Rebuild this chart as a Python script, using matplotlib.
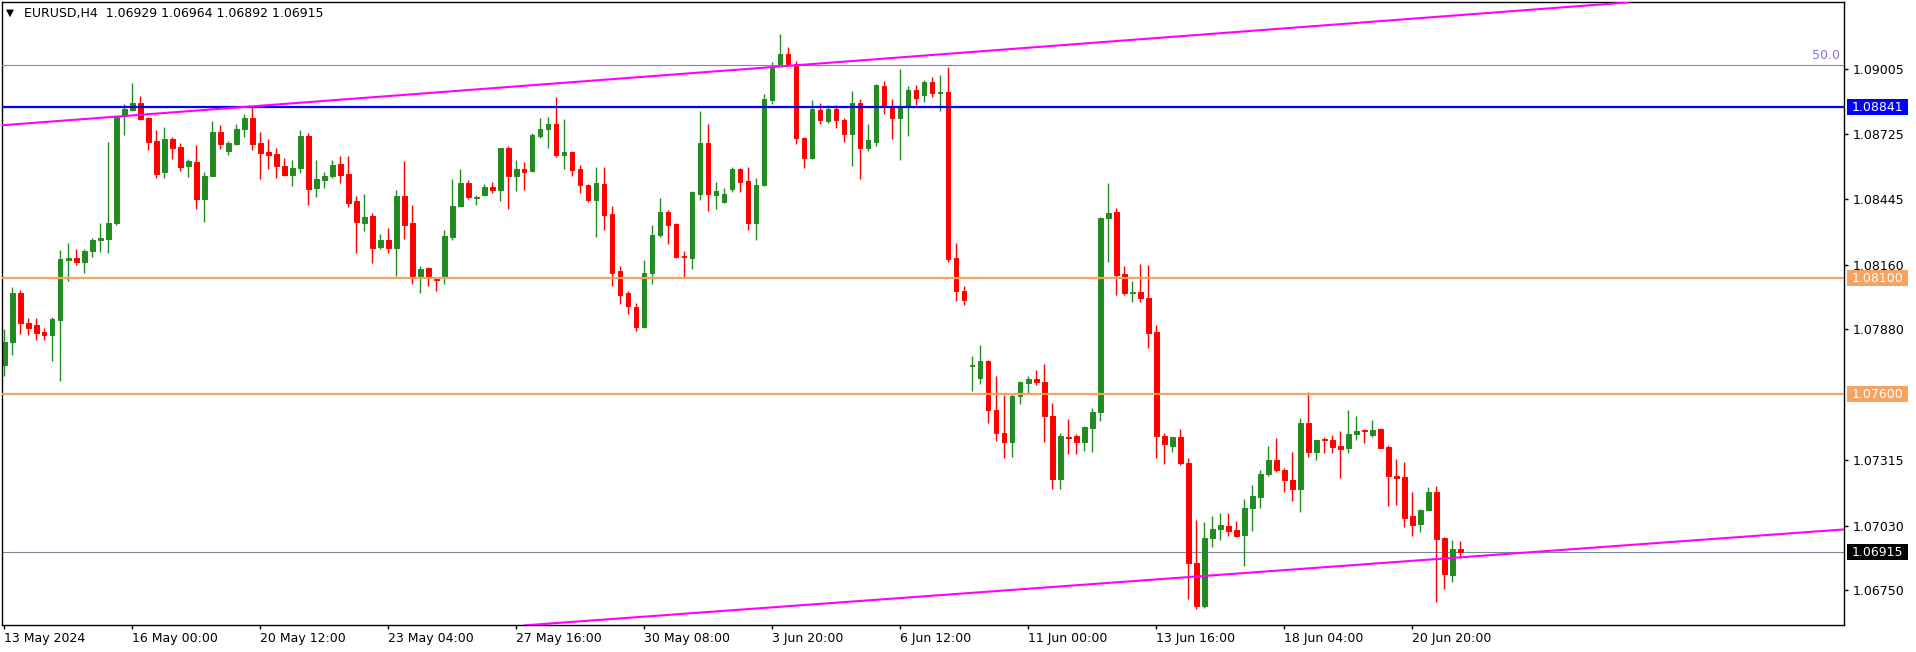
import matplotlib
matplotlib.use("Agg")
import matplotlib.pyplot as plt
from matplotlib.transforms import blended_transform_factory
from matplotlib.patches import Rectangle

# ---------------- data (EURUSD H4) ----------------
opens = [1.07724, 1.07825, 1.08037, 1.07909, 1.07897, 1.07869, 1.07856, 1.07921, 1.08181, 1.08188,
         1.08171, 1.08218, 1.08266, 1.08271, 1.08340, 1.08805, 1.08829, 1.08858, 1.08793, 1.08695,
         1.08559, 1.08703, 1.08669, 1.08588, 1.08604, 1.08443, 1.08545, 1.08734, 1.08651, 1.08683,
         1.08745, 1.08796, 1.08687, 1.08648, 1.08639, 1.08589, 1.08549, 1.08577, 1.08717, 1.08492,
         1.08528, 1.08545, 1.08595, 1.08552, 1.08436, 1.08342, 1.08372, 1.08238, 1.08268, 1.08233,
         1.08457, 1.08340, 1.08111, 1.08144, 1.08098, 1.08100, 1.08280, 1.08413, 1.08515, 1.08448,
         1.08462, 1.08496, 1.08485, 1.08664, 1.08545, 1.08575, 1.08565, 1.08715, 1.08747, 1.08768,
         1.08634, 1.08648, 1.08572, 1.08506, 1.08439, 1.08510, 1.08381, 1.08134, 1.08038, 1.07978,
         1.07892, 1.08125, 1.08287, 1.08388, 1.08337, 1.08197, 1.08190, 1.08466, 1.08687, 1.08462,
         1.08430, 1.08487, 1.08575, 1.08522, 1.08340, 1.08506, 1.08874, 1.09022, 1.09072, 1.09028,
         1.08708, 1.08623, 1.08830, 1.08782, 1.08833, 1.08786, 1.08727, 1.08860, 1.08665, 1.08690,
         1.08932, 1.08842, 1.08793, 1.08842, 1.08916, 1.08895, 1.08950, 1.08902, 1.08909, 1.08188,
         1.08045, 1.07722, 1.07671, 1.07743, 1.07533, 1.07432, 1.07393, 1.07591, 1.07648, 1.07664,
         1.07651, 1.07507, 1.07234, 1.07415, 1.07420, 1.07393, 1.07454, 1.07524, 1.08360, 1.08386,
         1.08118, 1.08037, 1.08042, 1.08015, 1.07870, 1.07418, 1.07376, 1.07413, 1.07303, 1.06867,
         1.06681, 1.06976, 1.07017, 1.07030, 1.07012, 1.06991, 1.07105, 1.07155, 1.07256, 1.07314,
         1.07273, 1.07226, 1.07190, 1.07476, 1.07347, 1.07406, 1.07402, 1.07374, 1.07367, 1.07429,
         1.07445, 1.07423, 1.07448, 1.07370, 1.07247, 1.07241, 1.07074, 1.07038, 1.07097, 1.07176,
         1.06976, 1.06817, 1.06929]
highs = [1.07883, 1.08063, 1.08051, 1.07931, 1.07931, 1.07886, 1.07934, 1.08224, 1.08252, 1.08227,
         1.08227, 1.08277, 1.08340, 1.08690, 1.08805, 1.08854, 1.08946, 1.08890, 1.08801, 1.08743,
         1.08756, 1.08711, 1.08687, 1.08616, 1.08678, 1.08561, 1.08782, 1.08766, 1.08697, 1.08770,
         1.08814, 1.08842, 1.08736, 1.08703, 1.08664, 1.08621, 1.08612, 1.08743, 1.08731, 1.08612,
         1.08561, 1.08612, 1.08632, 1.08632, 1.08457, 1.08466, 1.08383, 1.08294, 1.08319, 1.08483,
         1.08609, 1.08418, 1.08153, 1.08150, 1.08102, 1.08312, 1.08531, 1.08575, 1.08528, 1.08462,
         1.08510, 1.08517, 1.08665, 1.08673, 1.08612, 1.08605, 1.08731, 1.08793, 1.08798, 1.08885,
         1.08789, 1.08650, 1.08591, 1.08510, 1.08582, 1.08582, 1.08413, 1.08153, 1.08044, 1.07994,
         1.08181, 1.08333, 1.08448, 1.08397, 1.08340, 1.08218, 1.08478, 1.08823, 1.08770, 1.08517,
         1.08491, 1.08582, 1.08580, 1.08582, 1.08535, 1.08899, 1.09036, 1.09158, 1.09102, 1.09040,
         1.08711, 1.08874, 1.08860, 1.08851, 1.08851, 1.08794, 1.08911, 1.08876, 1.08770, 1.08940,
         1.08955, 1.08877, 1.09005, 1.08934, 1.08938, 1.08957, 1.08973, 1.08982, 1.09017, 1.08252,
         1.08067, 1.07764, 1.07812, 1.07747, 1.07680, 1.07597, 1.07600, 1.07658, 1.07680, 1.07704,
         1.07729, 1.07561, 1.07432, 1.07491, 1.07425, 1.07460, 1.07538, 1.08365, 1.08515, 1.08404,
         1.08153, 1.08090, 1.08162, 1.08157, 1.07899, 1.07432, 1.07415, 1.07448, 1.07323, 1.07054,
         1.07044, 1.07072, 1.07084, 1.07084, 1.07051, 1.07146, 1.07206, 1.07273, 1.07376, 1.07409,
         1.07280, 1.07349, 1.07498, 1.07609, 1.07402, 1.07415, 1.07422, 1.07438, 1.07533, 1.07503,
         1.07450, 1.07489, 1.07452, 1.07379, 1.07317, 1.07305, 1.07176, 1.07102, 1.07199, 1.07203,
         1.06980, 1.06969, 1.06964]
lows = [1.07680, 1.07768, 1.07860, 1.07856, 1.07835, 1.07835, 1.07745, 1.07658, 1.08090, 1.08157,
        1.08125, 1.08192, 1.08215, 1.08210, 1.08333, 1.08722, 1.08824, 1.08787, 1.08655, 1.08537,
        1.08533, 1.08618, 1.08567, 1.08540, 1.08402, 1.08346, 1.08542, 1.08662, 1.08634, 1.08678,
        1.08711, 1.08657, 1.08531, 1.08574, 1.08537, 1.08545, 1.08501, 1.08558, 1.08416, 1.08453,
        1.08492, 1.08533, 1.08515, 1.08408, 1.08210, 1.08307, 1.08165, 1.08227, 1.08211, 1.08112,
        1.08271, 1.08077, 1.08038, 1.08068, 1.08047, 1.08077, 1.08268, 1.08410, 1.08443, 1.08416,
        1.08455, 1.08469, 1.08434, 1.08399, 1.08480, 1.08483, 1.08559, 1.08708, 1.08664, 1.08627,
        1.08572, 1.08542, 1.08468, 1.08430, 1.08280, 1.08312, 1.08067, 1.07989, 1.07948, 1.07874,
        1.07885, 1.08077, 1.08280, 1.08249, 1.08190, 1.08107, 1.08139, 1.08439, 1.08390, 1.08399,
        1.08427, 1.08475, 1.08476, 1.08312, 1.08268, 1.08500, 1.08856, 1.09019, 1.09019, 1.08683,
        1.08579, 1.08618, 1.08770, 1.08775, 1.08752, 1.08692, 1.08588, 1.08531, 1.08650, 1.08674,
        1.08814, 1.08704, 1.08611, 1.08718, 1.08851, 1.08862, 1.08886, 1.08824, 1.08171, 1.08001,
        1.07984, 1.07614, 1.07644, 1.07473, 1.07397, 1.07321, 1.07326, 1.07556, 1.07600, 1.07637,
        1.07392, 1.07188, 1.07188, 1.07339, 1.07339, 1.07353, 1.07347, 1.07482, 1.08171, 1.08029,
        1.08029, 1.07998, 1.07998, 1.07798, 1.07321, 1.07296, 1.07347, 1.07294, 1.06711, 1.06669,
        1.06673, 1.06938, 1.06969, 1.06987, 1.06982, 1.06855, 1.07008, 1.07105, 1.07247, 1.07264,
        1.07176, 1.07137, 1.07091, 1.07326, 1.07316, 1.07344, 1.07344, 1.07238, 1.07344, 1.07402,
        1.07388, 1.07415, 1.07367, 1.07114, 1.07120, 1.07026, 1.06987, 1.07003, 1.07095, 1.06699,
        1.06756, 1.06787, 1.06892]
closes = [1.07825, 1.08037, 1.07909, 1.07886, 1.07865, 1.07856, 1.07923, 1.08183, 1.08188, 1.08171,
          1.08218, 1.08266, 1.08277, 1.08342, 1.08801, 1.08832, 1.08858, 1.08789, 1.08692, 1.08554,
          1.08703, 1.08664, 1.08584, 1.08607, 1.08443, 1.08545, 1.08734, 1.08681, 1.08687, 1.08745,
          1.08796, 1.08683, 1.08644, 1.08635, 1.08589, 1.08549, 1.08577, 1.08717, 1.08489, 1.08531,
          1.08545, 1.08591, 1.08549, 1.08427, 1.08346, 1.08365, 1.08231, 1.08268, 1.08233, 1.08457,
          1.08333, 1.08111, 1.08141, 1.08105, 1.08095, 1.08284, 1.08413, 1.08515, 1.08453, 1.08453,
          1.08496, 1.08485, 1.08664, 1.08545, 1.08572, 1.08559, 1.08722, 1.08747, 1.08768, 1.08634,
          1.08648, 1.08568, 1.08506, 1.08439, 1.08514, 1.08376, 1.08125, 1.08028, 1.07980, 1.07892,
          1.08125, 1.08287, 1.08388, 1.08333, 1.08192, 1.08192, 1.08475, 1.08687, 1.08466, 1.08478,
          1.08466, 1.08575, 1.08519, 1.08340, 1.08505, 1.08876, 1.09013, 1.09072, 1.09028, 1.08708,
          1.08623, 1.08833, 1.08784, 1.08833, 1.08784, 1.08727, 1.08860, 1.08665, 1.08699, 1.08938,
          1.08842, 1.08793, 1.08842, 1.08916, 1.08881, 1.08950, 1.08902, 1.08909, 1.08183, 1.08045,
          1.08006, 1.07727, 1.07743, 1.07529, 1.07431, 1.07393, 1.07591, 1.07651, 1.07664, 1.07650,
          1.07503, 1.07234, 1.07418, 1.07411, 1.07393, 1.07457, 1.07524, 1.08360, 1.08383, 1.08116,
          1.08038, 1.08040, 1.08015, 1.07865, 1.07418, 1.07385, 1.07413, 1.07303, 1.06867, 1.06681,
          1.06976, 1.07017, 1.07035, 1.07008, 1.06987, 1.07105, 1.07158, 1.07256, 1.07314, 1.07273,
          1.07226, 1.07190, 1.07476, 1.07347, 1.07400, 1.07400, 1.07370, 1.07363, 1.07429, 1.07441,
          1.07441, 1.07446, 1.07367, 1.07247, 1.07238, 1.07065, 1.07035, 1.07097, 1.07176, 1.06973,
          1.06823, 1.06928, 1.06915]

time_labels = ["13 May 2024", "16 May 00:00", "20 May 12:00", "23 May 04:00", "27 May 16:00",
               "30 May 08:00", "3 Jun 20:00", "6 Jun 12:00", "11 Jun 00:00", "13 Jun 16:00",
               "18 Jun 04:00", "20 Jun 20:00"]
time_label_bars = [0, 16, 32, 48, 64, 80, 96, 112, 128, 144, 160, 176]
price_ticks = [1.09005, 1.08725, 1.08445, 1.08160, 1.07880, 1.07315, 1.07030, 1.06750]

fib_level = 1.09026          # "50.0" level
resistance_blue = 1.08841
levels_orange = [1.08100, 1.07600]
bid_price = 1.06915

upper_trend = [(0, 1.08764), (112, 1.09057)]
lower_trend = [(112, 1.06717), (230, 1.07014)]

title_symbol = "EURUSD,H4"
title_ohlc = ["1.06929", "1.06964", "1.06892", "1.06915"]

# ---------------- figure ----------------
W, H = 1916, 652
fig = plt.figure(figsize=(W / 100, H / 100), dpi=100)
ax = fig.add_axes([2.3 / W, 1 - 625.3 / H, (1844.3 - 2.3) / W, (625.3 - 2.4) / H])

GREEN = "#228B22"
RED = "#FF0000"
xs = list(range(len(opens)))
cols = [GREEN if c >= o else RED for o, c in zip(opens, closes)]

ax.vlines(xs, lows, highs, colors=cols, linewidth=1.0, zorder=2)
ax.bar(xs, [abs(c - o) for o, c in zip(opens, closes)],
       bottom=[min(o, c) for o, c in zip(opens, closes)],
       width=0.55, color=cols, edgecolor=cols, linewidth=0.7, zorder=2.5)

# horizontal levels
ax.axhline(fib_level, color="#9370DB", linewidth=0.8, zorder=3)
ax.axhline(resistance_blue, color="#0000FF", linewidth=1.6, zorder=3)
for lv in levels_orange:
    ax.axhline(lv, color="#F4A460", linewidth=1.6, zorder=3)
ax.axhline(bid_price, color="#778899", linewidth=0.8, zorder=1.5)

# trend channel
ax.axline(upper_trend[0], upper_trend[1], color="#FF00FF", linewidth=1.5, zorder=3)
ax.axline(lower_trend[0], lower_trend[1], color="#FF00FF", linewidth=1.5, zorder=3)

ax.set_xlim(-0.25, 230.0)
ax.set_ylim(1.06599, 1.09295)

# axes styling
for s in ax.spines.values():
    s.set_color("black")
    s.set_linewidth(1.0)

ax.set_xticks(time_label_bars)
ax.set_xticklabels(time_labels, ha="left")
ax.tick_params(axis="x", direction="out", length=3, width=1, pad=2, labelsize=9, colors="black")

ax.yaxis.tick_right()
ax.set_yticks(price_ticks)
ax.set_yticklabels([f"{p:.5f}" for p in price_ticks])
ax.tick_params(axis="y", direction="out", length=3, width=1, pad=3, labelsize=9, colors="black")

# "50.0" label
bl = blended_transform_factory(ax.transAxes, ax.transData)
ax.annotate("50.0", xy=(1, fib_level), xycoords=bl, xytext=(-4, 3),
            textcoords="offset pixels", ha="right", va="bottom",
            fontsize=9, color="#9370DB")

# price boxes on the right scale
inv = fig.transFigure.inverted()
def price_box(price, face, text):
    y_disp = ax.transData.transform((0, price))[1]
    _, yf = inv.transform((0, y_disp))
    fig.patches.append(Rectangle((1846.5 / W, yf - 8 / H), 61 / W, 16 / H,
                                 transform=fig.transFigure, facecolor=face,
                                 edgecolor="none", zorder=5))
    fig.text(1851.5 / W, yf, text, ha="left", va="center", fontsize=9,
             color="white", zorder=6)

price_box(resistance_blue, "#0000FF", f"{resistance_blue:.5f}")
for lv in levels_orange:
    price_box(lv, "#F4A460", f"{lv:.5f}")
price_box(bid_price, "#000000", f"{bid_price:.5f}")

# title
fig.text(6 / W, 1 - 13 / H, "\u25BC", ha="left", va="center", fontsize=7.5, color="black")
fig.text(24 / W, 1 - 13.5 / H, title_symbol + "  " + " ".join(title_ohlc),
         ha="left", va="center", fontsize=9, color="black")

fig.savefig("out.png", dpi=100, facecolor="white")
